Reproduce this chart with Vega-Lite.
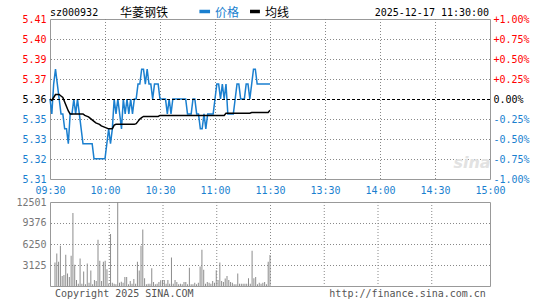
{
  "$schema": "https://vega.github.io/schema/vega-lite/v6.json",
  "background": "white",
  "padding": {"left": 15, "top": 6, "right": 0, "bottom": 0},
  "bounds": "flush",
  "spacing": 23,
  "data": {"values": [
    {"m":0,"p":5.36,"a":5.360,"v":3500},{"m":1,"p":5.35,"a":5.359,"v":4850},{"m":2,"p":5.37,"a":5.361,"v":3600},{"m":3,"p":5.38,"a":5.363,"v":6000},{"m":4,"p":5.37,"a":5.363,"v":1500},
    {"m":5,"p":5.36,"a":5.363,"v":1650},{"m":6,"p":5.35,"a":5.362,"v":4650},{"m":7,"p":5.35,"a":5.361,"v":1850},{"m":8,"p":5.34,"a":5.358,"v":1350},{"m":9,"p":5.34,"a":5.355,"v":4500},
    {"m":10,"p":5.33,"a":5.352,"v":10850},{"m":11,"p":5.35,"a":5.350,"v":3150},{"m":12,"p":5.35,"a":5.350,"v":900},{"m":13,"p":5.36,"a":5.350,"v":350},{"m":14,"p":5.35,"a":5.350,"v":4100},
    {"m":15,"p":5.36,"a":5.350,"v":350},{"m":16,"p":5.35,"a":5.350,"v":2150},{"m":17,"p":5.34,"a":5.350,"v":250},{"m":18,"p":5.33,"a":5.350,"v":3350},{"m":19,"p":5.33,"a":5.349,"v":500},
    {"m":20,"p":5.33,"a":5.3485,"v":2300},{"m":21,"p":5.33,"a":5.348,"v":250},{"m":22,"p":5.33,"a":5.347,"v":900},{"m":23,"p":5.33,"a":5.346,"v":750},{"m":24,"p":5.32,"a":5.345,"v":6900},
    {"m":25,"p":5.32,"a":5.344,"v":3750},{"m":26,"p":5.32,"a":5.3435,"v":750},{"m":27,"p":5.32,"a":5.343,"v":3600},{"m":28,"p":5.32,"a":5.342,"v":3750},{"m":29,"p":5.32,"a":5.3415,"v":2500},
    {"m":30,"p":5.32,"a":5.341,"v":350},{"m":31,"p":5.33,"a":5.3405,"v":7750},{"m":32,"p":5.34,"a":5.340,"v":500},{"m":33,"p":5.33,"a":5.340,"v":350},{"m":34,"p":5.34,"a":5.340,"v":250},
    {"m":35,"p":5.36,"a":5.3425,"v":12500},{"m":36,"p":5.35,"a":5.343,"v":500},{"m":37,"p":5.36,"a":5.343,"v":650},{"m":38,"p":5.35,"a":5.343,"v":500},{"m":39,"p":5.34,"a":5.343,"v":1350},
    {"m":40,"p":5.36,"a":5.343,"v":1350},{"m":41,"p":5.35,"a":5.343,"v":250},{"m":42,"p":5.36,"a":5.343,"v":750},{"m":43,"p":5.35,"a":5.343,"v":350},{"m":44,"p":5.36,"a":5.343,"v":1050},
    {"m":45,"p":5.35,"a":5.343,"v":350},{"m":46,"p":5.36,"a":5.343,"v":3600},{"m":47,"p":5.36,"a":5.3435,"v":2300},{"m":48,"p":5.37,"a":5.345,"v":6000},{"m":49,"p":5.37,"a":5.3465,"v":8400},
    {"m":50,"p":5.38,"a":5.3475,"v":1150},{"m":51,"p":5.38,"a":5.3483,"v":250},{"m":52,"p":5.37,"a":5.3483,"v":350},{"m":53,"p":5.38,"a":5.3483,"v":350},{"m":54,"p":5.37,"a":5.3483,"v":2650},
    {"m":55,"p":5.37,"a":5.3483,"v":600},{"m":56,"p":5.36,"a":5.3483,"v":250},{"m":57,"p":5.37,"a":5.3483,"v":350},{"m":58,"p":5.37,"a":5.3483,"v":600},{"m":59,"p":5.37,"a":5.3483,"v":850},
    {"m":60,"p":5.36,"a":5.349,"v":900},{"m":61,"p":5.36,"a":5.349,"v":900},{"m":62,"p":5.36,"a":5.349,"v":350},{"m":63,"p":5.36,"a":5.349,"v":900},{"m":64,"p":5.35,"a":5.349,"v":350},
    {"m":65,"p":5.36,"a":5.349,"v":4250},{"m":66,"p":5.35,"a":5.349,"v":350},{"m":67,"p":5.36,"a":5.349,"v":900},{"m":68,"p":5.36,"a":5.349,"v":600},{"m":69,"p":5.36,"a":5.349,"v":250},
    {"m":70,"p":5.36,"a":5.349,"v":350},{"m":71,"p":5.36,"a":5.349,"v":250},{"m":72,"p":5.36,"a":5.349,"v":600},{"m":73,"p":5.36,"a":5.349,"v":600},{"m":74,"p":5.36,"a":5.349,"v":250},
    {"m":75,"p":5.35,"a":5.349,"v":2700},{"m":76,"p":5.35,"a":5.349,"v":250},{"m":77,"p":5.35,"a":5.349,"v":250},{"m":78,"p":5.36,"a":5.349,"v":500},{"m":79,"p":5.36,"a":5.349,"v":250},
    {"m":80,"p":5.35,"a":5.349,"v":500},{"m":81,"p":5.35,"a":5.349,"v":2900},{"m":82,"p":5.34,"a":5.349,"v":5400},{"m":83,"p":5.34,"a":5.349,"v":2400},{"m":84,"p":5.35,"a":5.349,"v":350},
    {"m":85,"p":5.34,"a":5.349,"v":600},{"m":86,"p":5.35,"a":5.349,"v":500},{"m":87,"p":5.35,"a":5.349,"v":350},{"m":88,"p":5.35,"a":5.349,"v":750},{"m":89,"p":5.35,"a":5.349,"v":500},
    {"m":90,"p":5.36,"a":5.349,"v":2350},{"m":91,"p":5.37,"a":5.349,"v":900},{"m":92,"p":5.37,"a":5.349,"v":3500},{"m":93,"p":5.36,"a":5.349,"v":750},{"m":94,"p":5.37,"a":5.349,"v":600},
    {"m":95,"p":5.36,"a":5.349,"v":1100},{"m":96,"p":5.37,"a":5.3505,"v":1500},{"m":97,"p":5.35,"a":5.3505,"v":900},{"m":98,"p":5.35,"a":5.3505,"v":600},{"m":99,"p":5.35,"a":5.3505,"v":500},
    {"m":100,"p":5.35,"a":5.3505,"v":250},{"m":101,"p":5.36,"a":5.3505,"v":250},{"m":102,"p":5.37,"a":5.3505,"v":1850},{"m":103,"p":5.37,"a":5.3505,"v":350},{"m":104,"p":5.36,"a":5.3505,"v":350},
    {"m":105,"p":5.36,"a":5.3505,"v":350},{"m":106,"p":5.36,"a":5.3505,"v":350},{"m":107,"p":5.37,"a":5.3505,"v":350},{"m":108,"p":5.37,"a":5.3505,"v":1150},{"m":109,"p":5.36,"a":5.3505,"v":350},
    {"m":110,"p":5.37,"a":5.351,"v":5250},{"m":111,"p":5.38,"a":5.351,"v":1150},{"m":112,"p":5.38,"a":5.351,"v":1350},{"m":113,"p":5.37,"a":5.351,"v":250},{"m":114,"p":5.37,"a":5.351,"v":500},
    {"m":115,"p":5.37,"a":5.351,"v":350},{"m":116,"p":5.37,"a":5.351,"v":500},{"m":117,"p":5.37,"a":5.351,"v":600},{"m":118,"p":5.37,"a":5.351,"v":250},{"m":119,"p":5.37,"a":5.351,"v":3600},
    {"m":120,"p":5.37,"a":5.3524,"v":4600}
  ]},
  "vconcat": [
    {
      "width": 440,
      "height": 160,
      "layer": [
        {
          "layer": [
            {"data": {"values": [{"g": "grid"}]}, "mark": {"type": "rule", "yOffset": 0.5}, "encoding": {"y": {"datum": 5.3198, "type": "quantitative"}}},
            {"data": {"values": [{"g": "grid"}]}, "mark": {"type": "rule", "yOffset": 0.5}, "encoding": {"y": {"datum": 5.3332, "type": "quantitative"}}},
            {"data": {"values": [{"g": "grid"}]}, "mark": {"type": "rule", "yOffset": 0.5}, "encoding": {"y": {"datum": 5.3466, "type": "quantitative"}}},
            {"data": {"values": [{"g": "grid"}]}, "mark": {"type": "rule", "yOffset": 0.5}, "encoding": {"y": {"datum": 5.3734, "type": "quantitative"}}},
            {"data": {"values": [{"g": "grid"}]}, "mark": {"type": "rule", "yOffset": 0.5}, "encoding": {"y": {"datum": 5.3868, "type": "quantitative"}}},
            {"data": {"values": [{"g": "grid"}]}, "mark": {"type": "rule", "yOffset": 0.5}, "encoding": {"y": {"datum": 5.4002, "type": "quantitative"}}},
            {"data": {"values": [{"g": "grid"}]}, "mark": {"type": "rule", "xOffset": 0.5}, "encoding": {"x": {"datum": 30, "type": "quantitative"}}},
            {"data": {"values": [{"g": "grid"}]}, "mark": {"type": "rule", "xOffset": 0.5}, "encoding": {"x": {"datum": 60, "type": "quantitative"}}},
            {"data": {"values": [{"g": "grid"}]}, "mark": {"type": "rule", "xOffset": 0.5}, "encoding": {"x": {"datum": 90, "type": "quantitative"}}},
            {"data": {"values": [{"g": "grid"}]}, "mark": {"type": "rule", "xOffset": 0.5}, "encoding": {"x": {"datum": 120, "type": "quantitative"}}},
            {"data": {"values": [{"g": "grid"}]}, "mark": {"type": "rule", "xOffset": 0.5}, "encoding": {"x": {"datum": 150, "type": "quantitative"}}},
            {"data": {"values": [{"g": "grid"}]}, "mark": {"type": "rule", "xOffset": 0.5}, "encoding": {"x": {"datum": 180, "type": "quantitative"}}},
            {"data": {"values": [{"g": "grid"}]}, "mark": {"type": "rule", "xOffset": 0.5}, "encoding": {"x": {"datum": 210, "type": "quantitative"}}},
            {
              "mark": {"type": "line", "color": "#1a7fcf", "strokeWidth": 1.5, "interpolate": "linear"},
              "encoding": {
                "x": {"field": "m", "type": "quantitative", "title": null,
                  "scale": {"domain": [0, 240], "nice": false, "zero": false},
                  "axis": {"values": [0, 30, 60, 90, 120, 150, 180, 210, 240], "tickCount": 20,
                    "labelExpr": "['09:30','10:00','10:30','11:00','11:30','13:30','14:00','14:30','15:00'][round(datum.value/30)]",
                    "labelColor": "#1a7fcf", "grid": false, "labelPadding": 6.5, "labelFlush": false, "labelOverlap": false, "title": null}},
                "y": {"field": "p", "type": "quantitative", "title": null,
                  "scale": {"domain": [5.3064, 5.4136], "nice": false, "zero": false},
                  "axis": {"values": [5.3064, 5.3198, 5.3332, 5.3466, 5.36, 5.3734, 5.3868, 5.4002, 5.4136], "tickCount": 20,
                    "format": ".2f", "grid": false, "labelPadding": 4, "labelFlush": false, "labelOverlap": false, "title": null,
                    "labelColor": {"condition": [{"test": "datum.value > 5.361", "value": "#ff0000"}, {"test": "datum.value < 5.359", "value": "#1a7fcf"}], "value": "#000000"}}}
              }
            },
            {
              "mark": {"type": "line", "color": "#000000", "strokeWidth": 1.5},
              "encoding": {
                "x": {"field": "m", "type": "quantitative", "title": null},
                "y": {"field": "a", "type": "quantitative", "title": null}
              }
            },
            {
              "data": {"values": [{"t": "sz000932"}]},
              "mark": {"type": "text", "align": "left", "baseline": "alphabetic", "font": "DejaVu Sans Mono", "fontSize": 10, "color": "#000000"},
              "encoding": {"x": {"datum": 0, "type": "quantitative"}, "y": {"datum": 5.41561, "type": "quantitative"}, "text": {"field": "t"}}
            },
            {
              "data": {"values": [{"t": "华菱钢铁"}]},
              "mark": {"type": "text", "align": "left", "baseline": "alphabetic", "font": "Noto Sans CJK SC", "fontSize": 12, "color": "#000000"},
              "encoding": {"x": {"datum": 38.2, "type": "quantitative"}, "y": {"datum": 5.41494, "type": "quantitative"}, "text": {"field": "t"}}
            },
            {
              "data": {"values": [{"t": "价格"}]},
              "mark": {"type": "rule", "color": "#1a7fcf", "strokeWidth": 3.5, "strokeDash": [1, 0]},
              "encoding": {"x": {"datum": 81.5, "type": "quantitative"}, "x2": {"datum": 87.3}, "y": {"datum": 5.41869, "type": "quantitative"}}
            },
            {
              "data": {"values": [{"t": "价格"}]},
              "mark": {"type": "text", "align": "left", "baseline": "alphabetic", "font": "Noto Sans CJK SC", "fontSize": 12, "color": "#1a7fcf"},
              "encoding": {"x": {"datum": 90, "type": "quantitative"}, "y": {"datum": 5.41494, "type": "quantitative"}, "text": {"field": "t"}}
            },
            {
              "data": {"values": [{"t": "均线"}]},
              "mark": {"type": "rule", "color": "#000000", "strokeWidth": 3.5, "strokeDash": [1, 0]},
              "encoding": {"x": {"datum": 109.1, "type": "quantitative"}, "x2": {"datum": 114.5}, "y": {"datum": 5.41869, "type": "quantitative"}}
            },
            {
              "data": {"values": [{"t": "均线"}]},
              "mark": {"type": "text", "align": "left", "baseline": "alphabetic", "font": "Noto Sans CJK SC", "fontSize": 12, "color": "#000000"},
              "encoding": {"x": {"datum": 117.3, "type": "quantitative"}, "y": {"datum": 5.41494, "type": "quantitative"}, "text": {"field": "t"}}
            },
            {
              "data": {"values": [{"t": "2025-12-17 11:30:00"}]},
              "mark": {"type": "text", "align": "right", "baseline": "alphabetic", "font": "DejaVu Sans Mono", "fontSize": 10, "color": "#000000"},
              "encoding": {"x": {"datum": 239.5, "type": "quantitative"}, "y": {"datum": 5.41561, "type": "quantitative"}, "text": {"field": "t"}}
            },
            {
              "data": {"values": [{"t": "sina"}]},
              "mark": {"type": "text", "align": "center", "baseline": "middle", "font": "DejaVu Sans", "fontSize": 16, "fontStyle": "italic", "fontWeight": "bold", "color": "#e2e2e2"},
              "encoding": {"x": {"datum": 230.2, "type": "quantitative"}, "y": {"datum": 5.3171, "type": "quantitative"}, "text": {"field": "t"}}
            }
          ]
        },
        {
          "data": {"values": [{"t": "prev"}]},
          "mark": {"type": "rule", "color": "#000000", "strokeWidth": 1, "strokeDash": [3, 2], "yOffset": 0.5},
          "encoding": {
            "y": {"datum": 0, "type": "quantitative",
              "scale": {"domain": [-1, 1], "nice": false, "zero": false},
              "axis": {"orient": "right", "values": [-1, -0.75, -0.5, -0.25, 0, 0.25, 0.5, 0.75, 1], "tickCount": 20,
                "labelExpr": "datum.value > 0.001 ? '+' + format(datum.value, '.2f') + '%' : (datum.value < -0.001 ? '-' + format(-datum.value, '.2f') + '%' : '0.00%')",
                "grid": false, "labelPadding": 3, "labelFlush": false, "labelOverlap": false, "title": null,
                "labelColor": {"condition": [{"test": "datum.value > 0.001", "value": "#ff0000"}, {"test": "datum.value < -0.001", "value": "#1a7fcf"}], "value": "#000000"}}}
          }
        }
      ],
      "resolve": {"scale": {"y": "independent"}}
    },
    {
      "width": 440,
      "height": 84,
      "layer": [
        {"data": {"values": [{"g": "grid"}]}, "mark": {"type": "rule", "yOffset": 0.5}, "encoding": {"y": {"datum": 3125, "type": "quantitative"}}},
        {"data": {"values": [{"g": "grid"}]}, "mark": {"type": "rule", "yOffset": 0.5}, "encoding": {"y": {"datum": 6250, "type": "quantitative"}}},
        {"data": {"values": [{"g": "grid"}]}, "mark": {"type": "rule", "yOffset": 0.5}, "encoding": {"y": {"datum": 9376, "type": "quantitative"}}},
        {"data": {"values": [{"g": "grid"}]}, "mark": {"type": "rule", "xOffset": 0.5}, "encoding": {"x": {"datum": 30, "type": "quantitative"}}},
        {"data": {"values": [{"g": "grid"}]}, "mark": {"type": "rule", "xOffset": 0.5}, "encoding": {"x": {"datum": 60, "type": "quantitative"}}},
        {"data": {"values": [{"g": "grid"}]}, "mark": {"type": "rule", "xOffset": 0.5}, "encoding": {"x": {"datum": 90, "type": "quantitative"}}},
        {"data": {"values": [{"g": "grid"}]}, "mark": {"type": "rule", "xOffset": 0.5}, "encoding": {"x": {"datum": 120, "type": "quantitative"}}},
        {"data": {"values": [{"g": "grid"}]}, "mark": {"type": "rule", "xOffset": 0.5}, "encoding": {"x": {"datum": 150, "type": "quantitative"}}},
        {"data": {"values": [{"g": "grid"}]}, "mark": {"type": "rule", "xOffset": 0.5}, "encoding": {"x": {"datum": 180, "type": "quantitative"}}},
        {"data": {"values": [{"g": "grid"}]}, "mark": {"type": "rule", "xOffset": 0.5}, "encoding": {"x": {"datum": 210, "type": "quantitative"}}},
        {
          "mark": {"type": "bar", "width": 1, "color": "#8c8c8c"},
          "encoding": {
            "x": {"field": "m", "type": "quantitative", "title": null,
              "scale": {"domain": [0, 240], "nice": false, "zero": false},
              "axis": {"labels": false, "grid": false, "title": null}},
            "y": {"field": "v", "type": "quantitative", "title": null,
              "scale": {"domain": [0, 12501], "nice": false},
              "axis": {"values": [3125, 6250, 9376, 12501], "tickCount": 20, "format": "d", "grid": false, "labelPadding": 4, "labelColor": "#777777", "labelFlush": false, "labelOverlap": false, "title": null}}
          }
        },
        {
          "data": {"values": [{"t": "Copyright 2025 SINA.COM"}]},
          "mark": {"type": "text", "align": "left", "baseline": "alphabetic", "font": "DejaVu Sans Mono", "fontSize": 10, "color": "#555555"},
          "encoding": {"x": {"datum": 0, "type": "quantitative"}, "y": {"datum": -1637, "type": "quantitative"}, "text": {"field": "t"}}
        },
        {
          "data": {"values": [{"t": "http://finance.sina.com.cn"}]},
          "mark": {"type": "text", "align": "right", "baseline": "alphabetic", "font": "DejaVu Sans Mono", "fontSize": 10, "color": "#555555"},
          "encoding": {"x": {"datum": 240.5, "type": "quantitative"}, "y": {"datum": -1637, "type": "quantitative"}, "text": {"field": "t"}}
        }
      ]
    }
  ],
  "config": {
    "view": {"stroke": "#999999", "strokeWidth": 1},
    "rule": {"color": "#888888", "strokeWidth": 1, "strokeDash": [1, 2]},
    "axis": {"labelFont": "DejaVu Sans Mono", "labelFontSize": 10, "domain": false, "ticks": false, "grid": false,
      "labelOverlap": false}
  }
}
